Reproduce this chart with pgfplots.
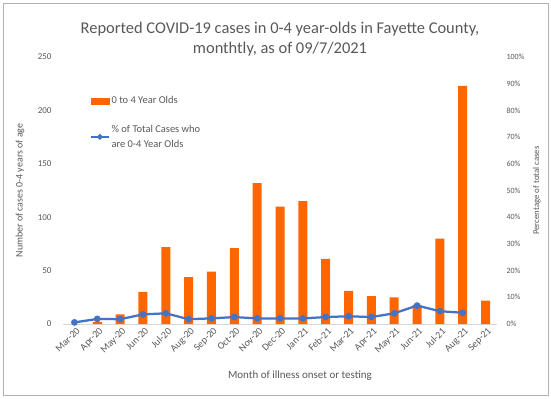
\documentclass[border=0pt]{standalone}
\usepackage{pgfplots}
\pgfplotsset{compat=1.18}
\usepackage{fontspec}
\setmainfont{Carlito}
\definecolor{txt}{HTML}{595959}
\definecolor{barc}{HTML}{FF6600}
\definecolor{lnc}{HTML}{4472C4}
\definecolor{axc}{HTML}{D9D9D9}
\begin{document}
\begin{tikzpicture}[x=1bp,y=1bp]
\path[use as bounding box] (0,0) rectangle (551,398);
\draw[draw=black!30, fill=white, line width=0.8bp] (3,3) rectangle (548,395);
\node[text=txt, font=\fontsize{16.5}{20}\selectfont, align=center] at (280,359) {Reported COVID-19 cases in 0-4 year-olds in Fayette County,\\monthtly, as of 09/7/2021};
\begin{axis}[
  at={(63bp,74bp)}, anchor=south west, scale only axis,
  width=434bp, height=267bp,
  xmin=-0.5, xmax=18.5, ymin=0, ymax=250,
  axis x line*=bottom, axis y line*=left,
  x axis line style={draw=axc, line width=0.8bp, -},
  y axis line style={draw=none},
  major tick length=0pt,
  ytick={0,50,...,250},
  xtick={0,...,18},
  xticklabels={Mar-20,Apr-20,May-20,Jun-20,Jul-20,Aug-20,Sep-20,Oct-20,Nov-20,Dec-20,Jan-21,Feb-21,Mar-21,Apr-21,May-21,Jun-21,Jul-21,Aug-21,Sep-21},
  xticklabel style={rotate=45, anchor=north east, font=\fontsize{10}{11}\selectfont, text=txt, inner sep=1bp, yshift=-2bp},
  yticklabel style={font=\fontsize{9}{11}\selectfont, text=txt, xshift=-8bp},
  xlabel={Month of illness onset or testing},
  ylabel={Number of cases 0-4 years of age},
  xlabel style={font=\fontsize{11}{13}\selectfont, text=txt, at={(axis description cs:0.546,-0.193)}, anchor=center},
  ylabel style={font=\fontsize{10}{12}\selectfont, text=txt, at={(axis description cs:-0.099,0.5)}, anchor=center, rotate=0},
  /pgf/number format/assume math mode=true,
]
\addplot[ybar, bar width=9bp, fill=barc, draw=none] coordinates {
(0,0) (1,2) (2,9) (3,30) (4,72) (5,44) (6,49) (7,71) (8,132) (9,110)
(10,115) (11,61) (12,31) (13,26) (14,25) (15,18) (16,80) (17,223) (18,22)
};
\end{axis}
\begin{axis}[
  at={(63bp,74bp)}, anchor=south west, scale only axis,
  width=434bp, height=267bp,
  xmin=-0.5, xmax=18.5, ymin=0, ymax=100,
  axis x line=none, axis y line*=right,
  y axis line style={draw=none},
  major tick length=0pt,
  ytick={0,10,...,100},
  yticklabel={\pgfmathprintnumber{\tick}\%},
  yticklabel style={font=\fontsize{8}{9}\selectfont, text=txt, xshift=6bp},
  ylabel={Percentage of total cases},
  ylabel style={font=\fontsize{8.8}{10}\selectfont, text=txt, at={(axis description cs:1.092,0.5)}, anchor=center, rotate=0},
  /pgf/number format/assume math mode=true,
  legend style={at={(axis description cs:0.062,0.86)}, anchor=north west, draw=none, fill=none,
    font=\fontsize{10.5}{14.5}\selectfont, text=txt, row sep=16bp,
    cells={anchor=west, align=left}, inner sep=0pt},
  legend cell align=left,
]
\addlegendimage{legend image code/.code={\fill[barc] (0bp,-3bp) rectangle (18bp,3bp);}}
\addlegendentry{0 to 4 Year Olds}
\addplot[lnc, line width=2.25bp, mark=*, mark size=2.2bp, mark options={fill=lnc, draw=lnc},
  legend image code/.code={\draw[lnc, line width=1.5bp] (0bp,0bp) -- (18bp,0bp); \fill[lnc] (9bp,0bp) circle (1.6bp);}]
 coordinates {
(0,0.6) (1,1.9) (2,1.8) (3,3.6) (4,4.0) (5,1.8) (6,2.1) (7,2.6) (8,2.1) (9,2.1)
(10,2.1) (11,2.6) (12,2.9) (13,2.6) (14,4.0) (15,6.9) (16,4.8) (17,4.2)
};
\addlegendentry{\% of Total Cases who\\are 0-4 Year Olds}
\end{axis}
\end{tikzpicture}
\end{document}
